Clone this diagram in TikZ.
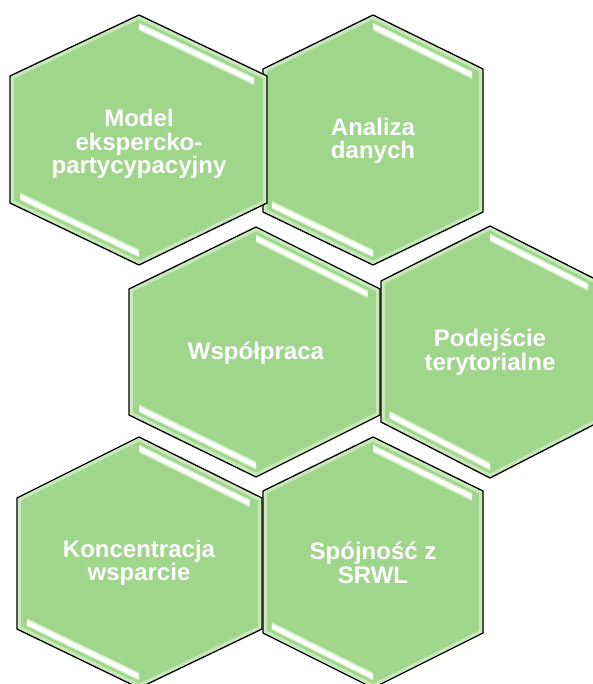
\documentclass[tikz,border=0pt]{standalone}
\usepackage{fontspec}
\setmainfont{Liberation Sans}
\usetikzlibrary{calc}
\definecolor{hexgreen}{RGB}{160,213,140}
\definecolor{hexglow}{RGB}{196,232,182}
\definecolor{hexglowtwo}{RGB}{215,240,205}
\definecolor{stripglow}{RGB}{212,240,200}
\tikzset{
  hexbody/.style={fill=hexgreen},
  hexedge/.style={draw=black, line width=1.3pt, line join=miter},
  glowwide/.style={draw=hexglow, line width=8pt},
  glownarrow/.style={draw=hexglowtwo, line width=3pt},
  stripouter/.style={fill=stripglow},
  stripinner/.style={fill=white},
  lbl/.style={text=white, align=center, inner sep=0pt,
    font=\bfseries\fontsize{24}{23.5}\selectfont},
}
% #1 id, #2 cx, #3 left, #4 right, #5 top, #6 upper side y, #7 lower side y, #8 bottom
\newcommand{\hexcell}[8]{%
  \coordinate (#1-T) at (#2,#5);
  \coordinate (#1-UR) at (#4,#6);
  \coordinate (#1-LR) at (#4,#7);
  \coordinate (#1-B) at (#2,#8);
  \coordinate (#1-LL) at (#3,#7);
  \coordinate (#1-UL) at (#3,#6);
  \fill[hexbody] (#1-T) -- (#1-UR) -- (#1-LR) -- (#1-B) -- (#1-LL) -- (#1-UL) -- cycle;
  \begin{scope}
    \clip (#1-T) -- (#1-UR) -- (#1-LR) -- (#1-B) -- (#1-LL) -- (#1-UL) -- cycle;
    \draw[glowwide] (#1-T) -- (#1-UR) -- (#1-LR) -- (#1-B) -- (#1-LL) -- (#1-UL) -- cycle;
    \draw[glownarrow] (#1-T) -- (#1-UR) -- (#1-LR) -- (#1-B) -- (#1-LL) -- (#1-UL) -- cycle;
  \end{scope}
  % upper highlight strip
  \fill[stripouter] ($(#1-T)+(0,7.5)$) -- ($(#1-T)!0.9!(#1-UR)+(0,7.5)$)
     -- ($(#1-T)!0.9!(#1-UR)+(0,15.5)$) -- ($(#1-T)+(0,15.5)$) -- cycle;
  \fill[stripinner] ($(#1-T)+(0,9)$) -- ($(#1-T)!0.9!(#1-UR)+(0,9)$)
     -- ($(#1-T)!0.9!(#1-UR)+(0,13.5)$) -- ($(#1-T)+(0,13.5)$) -- cycle;
  % lower highlight strip
  \fill[stripouter] ($(#1-LL)!0.08!(#1-B)+(0,-7.5)$) -- ($(#1-B)+(0,-7.5)$)
     -- ($(#1-B)+(0,-15.5)$) -- ($(#1-LL)!0.08!(#1-B)+(0,-15.5)$) -- cycle;
  \fill[stripinner] ($(#1-LL)!0.08!(#1-B)+(0,-9)$) -- ($(#1-B)+(0,-9)$)
     -- ($(#1-B)+(0,-13.5)$) -- ($(#1-LL)!0.08!(#1-B)+(0,-13.5)$) -- cycle;
  \draw[hexedge] (#1-T) -- (#1-UR) -- (#1-LR) -- (#1-B) -- (#1-LL) -- (#1-UL) -- cycle;
}
\begin{document}
\begin{tikzpicture}[x=1pt,y=-1pt]
\useasboundingbox (0,0) rectangle (593,684);
\clip (0,0) rectangle (593,684);
% row 1
\hexcell{h2}{373}{263}{483}{15}{69}{212}{265}
\hexcell{h1}{139}{10}{267}{15}{76}{203}{265}
% row 2
\hexcell{h4}{490}{381}{599}{226}{281}{422}{478}
\hexcell{h3}{256}{129}{380}{227}{289}{415}{477}
% row 3
\hexcell{h6}{373}{263}{483}{437}{491}{633}{688}
\hexcell{h5}{139}{17}{262}{437}{498}{629}{688}
% labels
\node[lbl] (t1) at (139,144) {Model\\ekspercko-\\partycypacyjny};
\node[lbl] (t2) at (373,141) {Analiza\\danych};
\node[lbl] (t3) at (256,353) {Współpraca};
\node[lbl] (t4) at (490,352) {Podejście\\terytorialne};
\node[lbl] (t5) at (139,563) {Koncentracja\\wsparcie};
\node[lbl] (t6) at (373,563) {Spójność z\\SRWL};
\end{tikzpicture}
\end{document}
